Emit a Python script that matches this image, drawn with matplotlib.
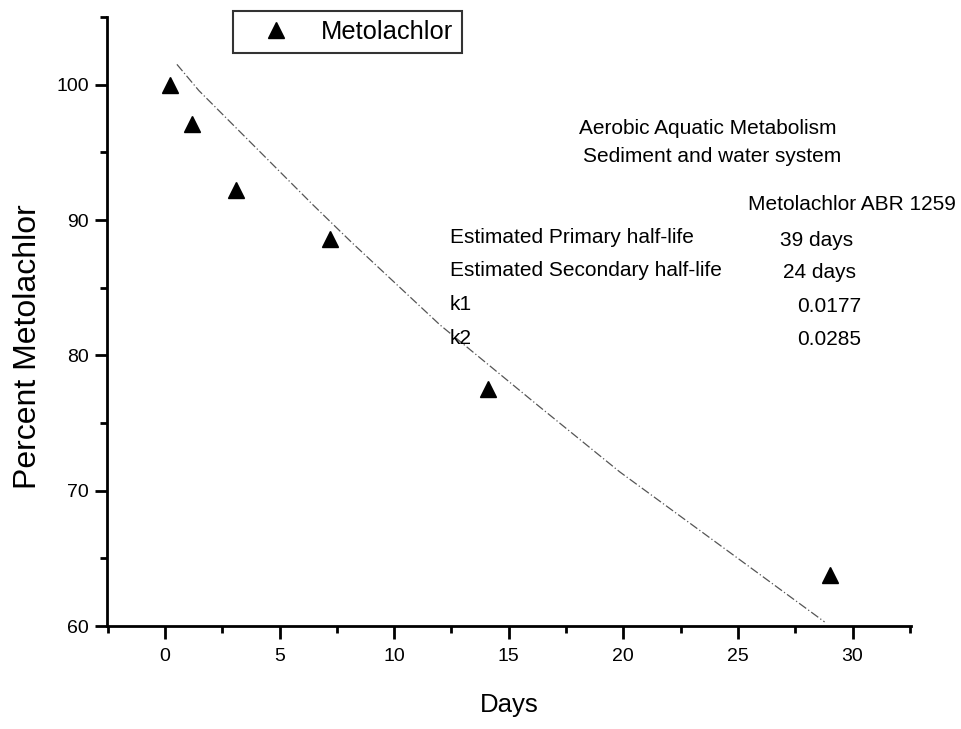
import matplotlib
matplotlib.use("Agg")
import matplotlib.pyplot as plt
from matplotlib.ticker import MultipleLocator

plt.rcParams['font.family'] = ['Liberation Sans', 'DejaVu Sans']

# measured data
days = [0.2, 1.2, 3.1, 7.2, 14.1, 29.0]
percent = [100.0, 97.1, 92.2, 88.6, 77.5, 63.8]

# fitted curve
fit_days = [0.52, 1.48, 6.45, 8.16, 11.99, 16.35, 19.84, 23.9, 28.78]
fit_percent = [101.5, 99.56, 91.13, 88.32, 82.26, 76.19, 71.39, 66.36, 60.3]

x_ticks = [0, 5, 10, 15, 20, 25, 30]
y_ticks = [60, 70, 80, 90, 100]

fig = plt.figure(figsize=(9.62, 7.29), dpi=100)
ax = fig.add_axes([107/962, 1-626/729, (911-107)/962, (626-17)/729])

ax.plot(fit_days, fit_percent, color='#555555', lw=0.9, ls=(0, (7, 2, 1, 2)))
ax.plot(days, percent, ls='none', marker='^', ms=12, color='black', label='Metolachlor')

ax.set_xlim(-2.53, 32.55)
ax.set_ylim(60, 105)
ax.set_xticks(x_ticks)
ax.set_yticks(y_ticks)
ax.xaxis.set_minor_locator(MultipleLocator(2.5))
ax.yaxis.set_minor_locator(MultipleLocator(5))
for s in ['top', 'right']:
    ax.spines[s].set_visible(False)
for s in ['left', 'bottom']:
    ax.spines[s].set_linewidth(2)
ax.tick_params(which='major', direction='out', length=9, width=2, labelsize=14)
ax.tick_params(axis='y', which='major', pad=4)
ax.tick_params(axis='x', which='major', pad=7)
ax.tick_params(which='minor', direction='out', length=5, width=2)

ax.set_xlabel('Days', fontsize=18.5, labelpad=20)
fig.text(28/962, 1-347/729, 'Percent Metolachlor', rotation=90, ha='center',
         va='center', fontsize=23)

leg = ax.legend(loc='upper left', bbox_to_anchor=(233/962, 1-11/729),
                bbox_transform=fig.transFigure, fontsize=18.4, frameon=True,
                fancybox=False, edgecolor='black', handletextpad=0.4,
                borderpad=0.35, handlelength=2.7, borderaxespad=0)
leg.get_frame().set_linewidth(1.5)

T = fig.transFigure
def put(x, y, s, ha='left'):
    fig.text(x/962, 1-y/729, s, ha=ha, va='center', fontsize=15, transform=T)

put(708, 129, 'Aerobic Aquatic Metabolism', ha='center')
put(712, 157, 'Sediment and water system', ha='center')
put(748, 205, 'Metolachlor ABR 1259')
put(450, 238, 'Estimated Primary half-life')
put(780, 240, '39 days')
put(450, 270, 'Estimated Secondary half-life')
put(783, 273, '24 days')
put(450, 305, 'k1')
put(797, 306, '0.0177')
put(450, 338, 'k2')
put(797, 340, '0.0285')

fig.savefig('out.png', dpi=100)
